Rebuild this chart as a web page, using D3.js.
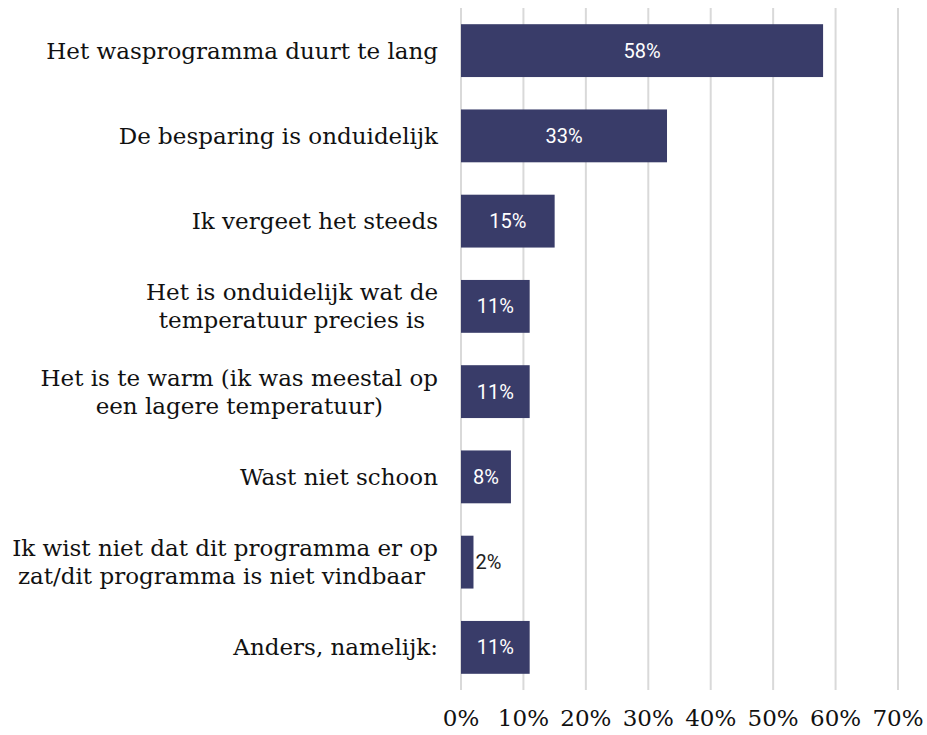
<!DOCTYPE html>
<html>
<head>
<meta charset="utf-8">
<script src="https://cdn.jsdelivr.net/npm/d3@7"></script>
<style>
  body { margin: 0; background: #fff; }
</style>
</head>
<body>
<svg width="927" height="735"></svg>
<script>
var categories = [
  ["Het wasprogramma duurt te lang"],
  ["De besparing is onduidelijk"],
  ["Ik vergeet het steeds"],
  ["Het is onduidelijk wat de", "temperatuur precies is"],
  ["Het is te warm (ik was meestal op", "een lagere temperatuur)"],
  ["Wast niet schoon"],
  ["Ik wist niet dat dit programma er op", "zat/dit programma is niet vindbaar "],
  ["Anders, namelijk:"]
];
var values = [58, 33, 15, 11, 11, 8, 2, 11];
var ticks = [0, 10, 20, 30, 40, 50, 60, 70];

var svg = d3.select("svg"),
    margin = {top: 8, right: 29, bottom: 45, left: 461},
    width = +svg.attr("width") - margin.left - margin.right,
    height = +svg.attr("height") - margin.top - margin.bottom;

var x = d3.scaleLinear()
  .domain([0, 70])
  .range([0, width]);

var y = d3.scaleBand()
  .domain(d3.range(categories.length))
  .range([0, height])
  .paddingInner(0.38)
  .paddingOuter(0.19);

var g = svg.append("g")
  .attr("transform", "translate(" + margin.left + "," + margin.top + ")");

// gridlines
g.selectAll(".grid")
  .data(ticks)
  .enter().append("line")
    .attr("class", "grid")
    .attr("x1", function(d) { return x(d); })
    .attr("x2", function(d) { return x(d); })
    .attr("y1", 0)
    .attr("y2", height)
    .style("stroke", "#d9d9d9")
    .style("stroke-width", 2);

// tick labels
g.selectAll(".tick-label")
  .data(ticks)
  .enter().append("text")
    .attr("class", "tick-label")
    .attr("x", function(d) { return x(d); })
    .attr("y", height + 36)
    .attr("text-anchor", "middle")
    .style("font", "23px 'DejaVu Serif'")
    .style("fill", "#111")
    .text(function(d) { return d + "%"; });

// bars
g.selectAll(".bar")
  .data(values)
  .enter().append("rect")
    .attr("class", "bar")
    .attr("x", x(0))
    .attr("y", function(d, i) { return y(i); })
    .attr("width", function(d) { return x(d) - x(0); })
    .attr("height", y.bandwidth())
    .style("fill", "#393c69");

// value labels
g.selectAll(".val")
  .data(values)
  .enter().append("text")
    .attr("class", "val")
    .attr("x", function(d) { return d < 5 ? x(d) + 2 : x(d / 2); })
    .attr("y", function(d, i) { return y(i) + y.bandwidth() / 2; })
    .attr("dy", "0.35em")
    .attr("text-anchor", function(d) { return d < 5 ? "start" : "middle"; })
    .style("font", "20px Roboto")
    .style("fill", function(d) { return d < 5 ? "#222" : "#fff"; })
    .text(function(d) { return d + "%"; });

// category labels
var lineH = 28;
var labels = g.selectAll(".cat")
  .data(categories)
  .enter().append("text")
    .attr("class", "cat")
    .attr("text-anchor", "middle")
    .attr("xml:space", "preserve")
    .style("font", "23px 'DejaVu Serif'")
    .style("fill", "#111");

labels.each(function(lines, i) {
  var t = d3.select(this);
  var cy = y(i) + y.bandwidth() / 2;
  lines.forEach(function(s, j) {
    t.append("tspan")
      .attr("y", cy + (j - (lines.length - 1) / 2) * lineH)
      .attr("dy", "0.35em")
      .text(s);
  });
  var w = d3.max(t.selectAll("tspan").nodes(), function(n) { return n.getComputedTextLength(); });
  t.selectAll("tspan").attr("x", -23 - w / 2);
});
</script>
</body>
</html>
